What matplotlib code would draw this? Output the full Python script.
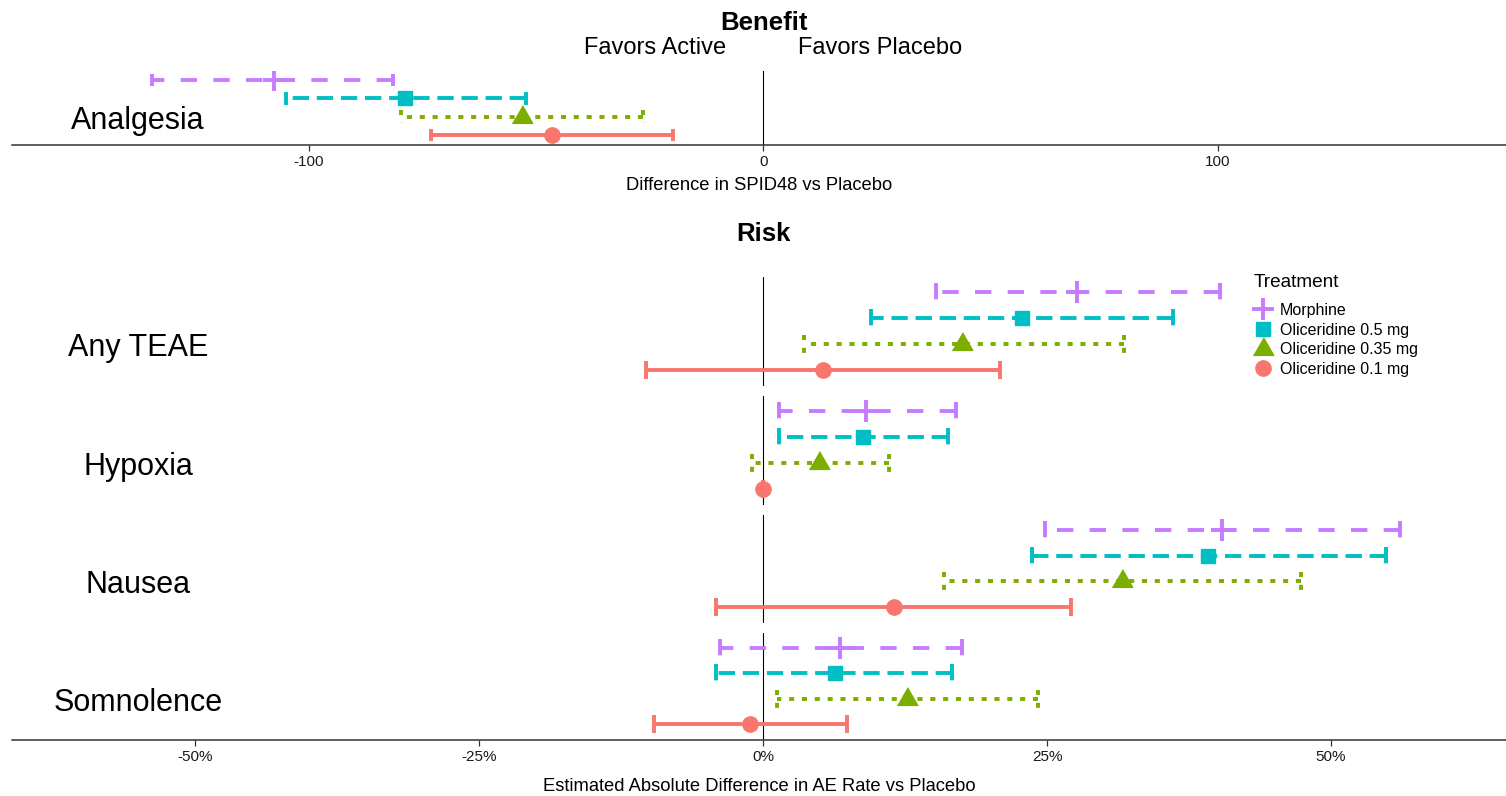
"""
Benefit-risk forest plot: oliceridine doses and morphine vs placebo
"""

import matplotlib.pyplot as plt
from matplotlib.lines import Line2D
from matplotlib.transforms import blended_transform_factory, offset_copy

plt.rcParams['font.family'] = ['Liberation Sans', 'DejaVu Sans']
plt.rcParams['axes.unicode_minus'] = False

# treatments, drawn bottom to top inside each panel
treatments = ['Oliceridine 0.1 mg', 'Oliceridine 0.35 mg', 'Oliceridine 0.5 mg', 'Morphine']
colors = ['#F8766D', '#7CAE00', '#00BFC4', '#C77CFF']

# Analgesia: difference in SPID48 vs placebo
analgesia_est = [-46.4, -53.2, -78.8, -107.7]
analgesia_lo = [-73.2, -79.7, -105.1, -134.4]
analgesia_hi = [-19.9, -26.5, -52.3, -81.5]

# Adverse events: absolute difference in AE rate vs placebo (%), one row per event
events = ['Any TEAE', 'Hypoxia', 'Nausea', 'Somnolence']
risk_est = [[5.3, 17.5, 22.8, 27.6],
            [0.0, 4.9, 8.8, 9.1],
            [11.5, 31.6, 39.2, 40.4],
            [-1.1, 12.7, 6.3, 6.8]]
risk_lo = [[-10.3, 3.6, 9.5, 15.2],
           [0.0, -1.0, 1.4, 1.4],
           [-4.1, 15.9, 23.7, 24.8],
           [-9.6, 1.2, -4.1, -3.8]]
risk_hi = [[20.9, 31.8, 36.1, 40.2],
           [0.0, 11.1, 16.3, 17.0],
           [27.1, 47.4, 54.8, 56.1],
           [7.4, 24.2, 16.6, 17.5]]

# line styles (dash lengths in units of line width) and point shapes
LW = 2.8
linestyles = ['solid', (0, (1.3, 2.0)), (0, (4.2, 2.0)), (0, (4.2, 4.2))]
tri = [(-1.0, -0.577), (1.0, -0.577), (0.0, 1.155)]
markers = [dict(marker='o', ms=11),
           dict(marker=tri, ms=17),
           dict(marker='s', ms=10.5),
           dict(marker='+', ms=16, mew=2.8)]
CAP = 0.35

W, H = 1506, 796


def px_box(left, top, right, bottom):
    return [left / W, 1 - bottom / H, (right - left) / W, (bottom - top) / H]


def draw_interval(ax, y, lo, est, hi, i):
    style = dict(color=colors[i], lw=LW, linestyle=linestyles[i], solid_capstyle='butt',
                 dash_capstyle='butt')
    ax.plot([hi, hi], [y + CAP, y - CAP], **style)
    ax.plot([hi, lo], [y, y], **style)
    ax.plot([lo, lo], [y + CAP, y - CAP], **style)
    ax.plot([est], [y], linestyle='none', color=colors[i], mec=colors[i], zorder=5, **markers[i])


def style_axis(ax, show_x):
    for side in ['top', 'right', 'left']:
        ax.spines[side].set_visible(False)
    ax.set_yticks([])
    if show_x:
        ax.spines['bottom'].set_color('#333333')
        ax.spines['bottom'].set_linewidth(1.1)
        ax.tick_params(axis='x', length=4, width=0.9, color='#333333',
                       labelsize=11, labelcolor='#1a1a1a', pad=3)
    else:
        ax.spines['bottom'].set_visible(False)
        ax.set_xticks([])
    ax.axvline(0, color='black', lw=0.8, zorder=0)


def row_label(ax, text):
    # category name sits on the middle of the four rows, baseline slightly below
    tr = blended_transform_factory(fig.transFigure, ax.transData)
    tr = offset_copy(tr, fig=fig, y=-12, units='dots')
    ax.text(138 / W, 1, text, transform=tr, ha='center', va='baseline', fontsize=22)


fig = plt.figure(figsize=(W / 100, H / 100), dpi=100)

# Benefit panel
ax_b = fig.add_axes(px_box(12, 71, 1506, 145))
for i in range(len(treatments)):
    draw_interval(ax_b, i, analgesia_lo[i], analgesia_est[i], analgesia_hi[i], i)
style_axis(ax_b, True)
ax_b.set_xlim(-165.3, 163.4)
ax_b.set_ylim(-0.545, 3.49)
ax_b.set_xticks([-100, 0, 100])
ax_b.set_xlabel('Difference in SPID48 vs Placebo', fontsize=13.2, labelpad=6)
row_label(ax_b, 'Analgesia')

# Risk panels, one per adverse event
facets = [(277, 386), (396, 505), (515, 623), (633, 740)]
for k, ev in enumerate(events):
    top, bottom = facets[k]
    ax = fig.add_axes(px_box(12, top, 1506, bottom))
    for i in range(len(treatments)):
        draw_interval(ax, i, risk_lo[k][i], risk_est[k][i], risk_hi[k][i], i)
    last = k == len(events) - 1
    style_axis(ax, last)
    ax.set_xlim(-66.1, 65.4)
    ax.set_ylim(-0.615, 3.58)
    row_label(ax, ev)
    if last:
        ticks = [-50, -25, 0, 25, 50]
        ax.set_xticks(ticks)
        ax.set_xticklabels([f'{t}%' for t in ticks])
        ax.set_xlabel('Estimated Absolute Difference in AE Rate vs Placebo', fontsize=13.2, labelpad=10)

# headings
fig.text(763.5 / W, 1 - 30 / H, 'Benefit', ha='center', va='baseline', fontsize=18.5, fontweight='bold')
fig.text(655.5 / W, 1 - 54 / H, 'Favors Active', ha='center', va='baseline', fontsize=17)
fig.text(880 / W, 1 - 54 / H, 'Favors Placebo', ha='center', va='baseline', fontsize=17)
fig.text(763.5 / W, 1 - 241 / H, 'Risk', ha='center', va='baseline', fontsize=18.5, fontweight='bold')

# legend, morphine listed first; title set as its own text for a wider gap
order = [3, 2, 1, 0]
handles = [Line2D([], [], linestyle='none', color=colors[i], mec=colors[i], **markers[i]) for i in order]
fig.text(1254 / W, 1 - 287 / H, 'Treatment', ha='left', va='baseline', fontsize=13.7)
fig.legend(handles, [treatments[i] for i in order], loc='upper left',
           bbox_to_anchor=(1254 / W, 1 - 303 / H), frameon=False,
           fontsize=11.5, handlelength=1.1, handletextpad=0.5,
           labelspacing=0.29, borderpad=0, borderaxespad=0)

plt.savefig('out.png', dpi=100)
